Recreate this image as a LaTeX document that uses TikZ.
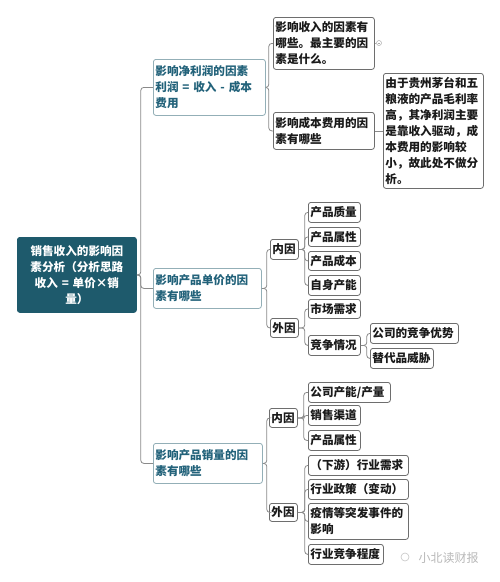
\documentclass[tikz,border=0pt]{standalone}
\usepackage{fontspec}
\newfontfamily\cjk{Noto Sans CJK SC}
\definecolor{rootfill}{HTML}{1E5A6C}
\definecolor{teal1}{HTML}{22627A}
\definecolor{tealborder}{HTML}{93AFB7}
\definecolor{leafborder}{HTML}{6E6E6E}
\definecolor{leaftext}{HTML}{1A1A1A}
\definecolor{linec}{HTML}{8A8A8A}
\newcommand\mynode[7]{%
  \pgfmathsetmacro\mw{#5-#3}\pgfmathsetmacro\mh{#6-#4}\pgfmathsetmacro\tw{#5-#3-4}%
  \node[#2,anchor=north west,minimum width=\mw pt,minimum height=\mh pt,text width=\tw pt] (#1) at (#3,#4) {#7};}
\begin{document}
\begin{tikzpicture}[x=1pt,y=-1pt,
  base/.style={rounded corners=2.5pt, inner xsep=2pt, inner ysep=1pt, line width=0.8pt,
    font=\cjk\bfseries\fontsize{11.6}{16}\selectfont},
  rootbox/.style={base, fill=rootfill, draw=rootfill, text=white, align=center},
  branch/.style={base, draw=tealborder, text=teal1, align=left},
  leaf/.style={base, draw=leafborder, text=leaftext, align=left},
  conn/.style={draw=linec, line width=0.8pt, rounded corners=3pt}]
\useasboundingbox (0,0) rectangle (500,582);
\fill[white] (0,0) rectangle (500,582);
% root
\mynode{root}{rootbox}{17}{237}{136}{312}{销售收入的影响因\\素分析（分析思路\\收入 = 单价×销\\量）}
% branches
\mynode{b1}{branch}{153}{59}{265}{115}{影响净利润的因素\\利润 = 收入 - 成本\\费用}
\mynode{b2}{branch}{153}{268}{261}{308}{影响产品单价的因\\素有哪些}
\mynode{b3}{branch}{153}{443}{262}{483}{影响产品销量的因\\素有哪些}
% branch 1 children
\mynode{b1c1}{leaf}{273}{17}{374}{69}{影响收入的因素有\\哪些。最主要的因\\素是什么。}
\mynode{b1c2}{leaf}{273}{112}{374}{149}{影响成本费用的因\\素有哪些}
\mynode{b1c2c}{leaf}{383}{73}{483}{188}{由于贵州茅台和五\\粮液的产品毛利率\\高，其净利润主要\\是靠收入驱动，成\\本费用的影响较\\小，故此处不做分\\析。}
% branch 2 children
\mynode{b2in}{leaf}{270}{239}{298}{259}{内因}
\mynode{b2out}{leaf}{270}{318}{298}{337}{外因}
\mynode{b2i1}{leaf}{308}{202}{360}{222}{产品质量}
\mynode{b2i2}{leaf}{308}{227}{360}{246}{产品属性}
\mynode{b2i3}{leaf}{308}{251}{360}{270}{产品成本}
\mynode{b2i4}{leaf}{308}{275}{360}{295}{自身产能}
\mynode{b2o1}{leaf}{308}{299}{360}{318}{市场需求}
\mynode{b2o2}{leaf}{308}{335}{360}{355}{竞争情况}
\mynode{b2c1}{leaf}{370}{323}{458}{343}{公司的竞争优势}
\mynode{b2c2}{leaf}{370}{348}{433}{368}{替代品威胁}
% branch 3 children
\mynode{b3in}{leaf}{269}{408}{297}{427}{内因}
\mynode{b3out}{leaf}{269}{503}{297}{521}{外因}
\mynode{b3i1}{leaf}{308}{382}{390}{402}{公司产能/产量}
\mynode{b3i2}{leaf}{308}{405}{360}{425}{销售渠道}
\mynode{b3i3}{leaf}{308}{430}{360}{450}{产品属性}
\mynode{b3o1}{leaf}{308}{455}{408}{475}{（下游）行业需求}
\mynode{b3o2}{leaf}{308}{479}{408}{499}{行业政策（变动）}
\mynode{b3o3}{leaf}{308}{503}{408}{539}{疫情等突发事件的\\影响}
\mynode{b3o4}{leaf}{308}{544}{383}{564}{行业竞争程度}
% connectors
\foreach \c in {b1,b2,b3} \draw[conn] (root.east) -- ++(4,0) |- (\c.west);
\foreach \c in {b1c1,b1c2} \draw[conn] (b1.east) -- ++(3,0) |- (\c.west);
\draw[conn] (b1c2.east) -- (b1c2c.west |- b1c2.east);
\foreach \c in {b2in,b2out} \draw[conn] (b2.east) -- ++(5,0) |- (\c.west);
\foreach \c in {b2i1,b2i2,b2i3,b2i4} \draw[conn] (b2in.east) -- ++(6,0) |- (\c.west);
\foreach \c in {b2o1,b2o2} \draw[conn] (b2out.east) -- ++(6,0) |- (\c.west);
\foreach \c in {b2c1,b2c2} \draw[conn] (b2o2.east) -- ++(6,0) |- (\c.west);
\foreach \c in {b3in,b3out} \draw[conn] (b3.east) -- ++(4,0) |- (\c.west);
\foreach \c in {b3i1,b3i2,b3i3} \draw[conn] (b3in.east) -- ++(6,0) |- (\c.west);
\foreach \c in {b3o1,b3o2,b3o3,b3o4} \draw[conn] (b3out.east) -- ++(7,0) |- (\c.west);
% collapse marker
\node[circle, draw=linec!70, line width=0.5pt, minimum size=5pt, inner sep=0pt] (col) at (379,43) {};
\draw[linec!70, line width=0.5pt] (b1c1.east |- col) -- (col.west);
\draw[linec!70, line width=0.5pt] ([xshift=-1.3pt]col.center) -- ([xshift=1.3pt]col.center);
% watermark
\node[font=\cjk\fontsize{12}{14}\selectfont, text=gray!55, anchor=west] (wm) at (415,558) {小北读财报};
\node[circle, draw=gray!45, line width=0.6pt, minimum size=8pt, inner sep=0pt] (wmi) at (405,557) {};
\end{tikzpicture}
\end{document}
